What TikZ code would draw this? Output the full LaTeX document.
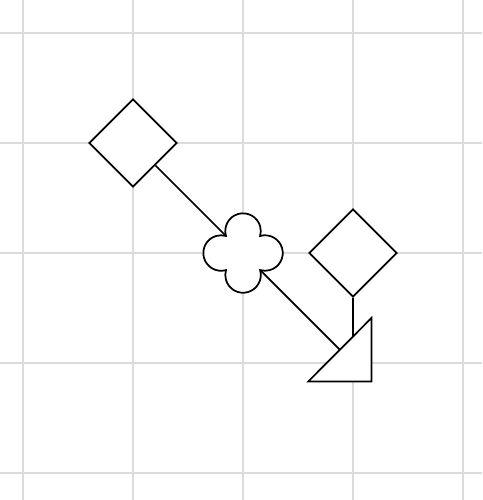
\documentclass[tikz,border=0pt]{standalone}
\usepackage{tikz}
\usetikzlibrary{shapes.geometric,calc}
\tikzset{
  gridline/.style={black!14, line width=0.5pt},
  outline/.style={draw=black, line width=0.45pt, fill=white},
  rhomb/.style={outline, diamond, aspect=1, minimum width=0.8cm, minimum height=0.8cm, inner sep=0pt},
  link/.style={black, line width=0.45pt},
}
\begin{document}
\begin{tikzpicture}
\useasboundingbox (-0.209,-0.245) rectangle (4.173,4.300);
% background grid, cells 1 wide
\foreach \k in {0,...,4}{
  \draw[gridline] (\k,-0.245) -- (\k,4.3);
  \draw[gridline] (-0.209,\k) -- (4.173,\k);
}
% diamonds
\node[rhomb] (dmdA) at (1,3) {};
\node[rhomb] (dmdB) at (3,2) {};
% four-lobed cloud: empty circle for the link ends, outline drawn round it
\node[circle, inner sep=0pt, minimum size=0.44cm] (blob) at (2,2) {};
\def\lr{0.1614}
\draw[outline] ($(blob)+(-0.155,0.155)$)
  arc[start angle=196, end angle=-16, radius=\lr]
  arc[start angle=106, end angle=-106, radius=\lr]
  arc[start angle=16, end angle=-196, radius=\lr]
  arc[start angle=-74, end angle=-286, radius=\lr] -- cycle;
% right triangle, right angle at bottom right
\coordinate (triA) at (2.594,0.833);
\coordinate (triB) at (3.167,0.833);
\coordinate (triC) at (3.167,1.409);
\draw[outline] (triA) -- (triB) -- (triC) -- cycle;
\coordinate (triMid) at ($(triA)!0.5!(triC)$);
\coordinate (triHit) at (3,1.239);
% links
\draw[link] (dmdA) -- (blob);
\draw[link] (blob) -- (triMid);
\draw[link] (dmdB) -- (triHit);
\end{tikzpicture}
\end{document}
